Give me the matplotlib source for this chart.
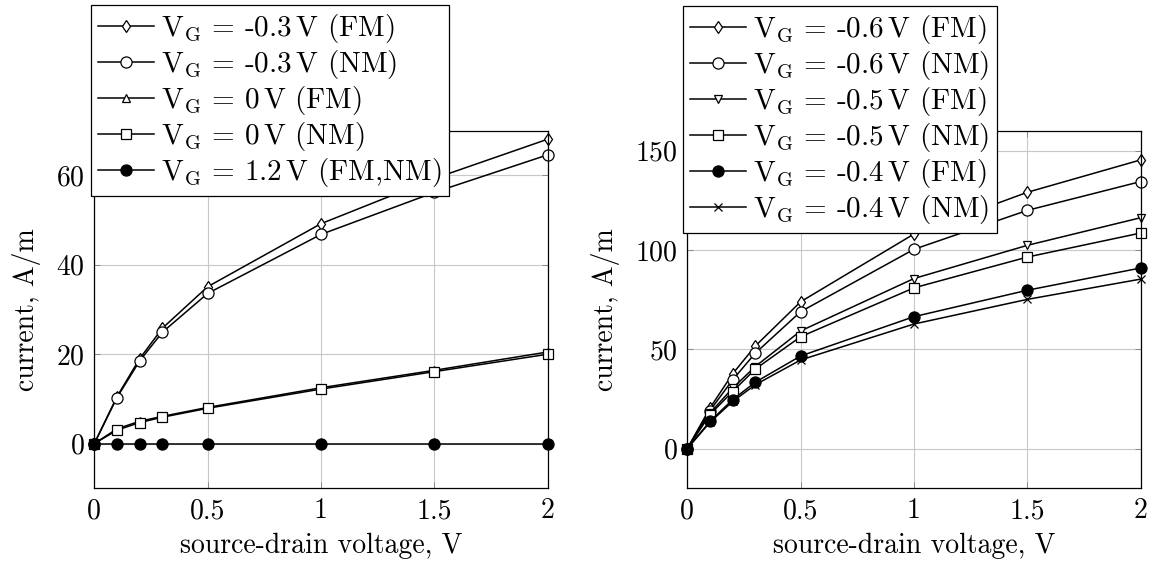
import matplotlib
matplotlib.use('Agg')
import matplotlib.pyplot as plt

plt.rcParams['font.family'] = 'serif'
plt.rcParams['font.serif'] = ['cmr10', 'DejaVu Serif']
plt.rcParams['mathtext.fontset'] = 'cm'
plt.rcParams['axes.unicode_minus'] = False
plt.rcParams['axes.formatter.use_mathtext'] = True
plt.rcParams['font.size'] = 20

# source-drain voltage, V
vsd = [0, 0.1, 0.2, 0.3, 0.5, 1, 1.5, 2]

# left panel, current A/m
left_labels = [r'$\mathrm{V_G}$ = -0.3$\,$V (FM)', r'$\mathrm{V_G}$ = -0.3$\,$V (NM)',
               r'$\mathrm{V_G}$ = 0$\,$V (FM)', r'$\mathrm{V_G}$ = 0$\,$V (NM)',
               r'$\mathrm{V_G}$ = 1.2$\,$V (FM,NM)']
l_m03_fm = [0, 10.5, 19.0, 25.8, 35.1, 49.2, 59.3, 68.1]
l_m03_nm = [0, 10.3, 18.5, 24.9, 33.6, 46.8, 56.2, 64.6]
l_0_fm = [0, 3.3, 5.0, 6.1, 8.1, 12.5, 16.4, 20.5]
l_0_nm = [0, 3.0, 4.7, 5.9, 7.9, 12.2, 16.1, 20.0]
l_12 = [0, 0, 0, 0, 0, 0, 0, 0]

# right panel, current A/m
right_labels = [r'$\mathrm{V_G}$ = -0.6$\,$V (FM)', r'$\mathrm{V_G}$ = -0.6$\,$V (NM)',
                r'$\mathrm{V_G}$ = -0.5$\,$V (FM)', r'$\mathrm{V_G}$ = -0.5$\,$V (NM)',
                r'$\mathrm{V_G}$ = -0.4$\,$V (FM)', r'$\mathrm{V_G}$ = -0.4$\,$V (NM)']
r_m06_fm = [0, 20.4, 37.6, 51.6, 73.9, 108.0, 129.0, 145.3]
r_m06_nm = [0, 19.1, 34.6, 48.0, 68.9, 100.3, 119.9, 134.4]
r_m05_fm = [0, 17.9, 30.4, 41.3, 59.2, 85.6, 102.3, 116.2]
r_m05_nm = [0, 17.1, 28.7, 40.0, 56.3, 80.9, 96.4, 108.5]
r_m04_fm = [0, 13.7, 24.6, 33.4, 46.6, 66.4, 79.7, 90.9]
r_m04_nm = [0, 13.2, 23.7, 32.1, 44.6, 62.7, 75.1, 85.3]

styles = {
    'diamond': dict(marker='d', ms=6, mfc='white'),
    'circle': dict(marker='o', ms=8, mfc='white'),
    'tri_up': dict(marker='^', ms=6, mfc='white'),
    'tri_down': dict(marker='v', ms=6, mfc='white'),
    'square': dict(marker='s', ms=7, mfc='white'),
    'dot': dict(marker='o', ms=8, mfc='black'),
    'cross': dict(marker='x', ms=6),
}

fig = plt.figure(figsize=(11.57, 5.70), dpi=100)
ax1 = fig.add_axes([0.0815, 0.1433, 0.3919, 0.6274])
ax2 = fig.add_axes([0.594, 0.1433, 0.3919, 0.6274])


def draw(ax, series, labels, markers):
    for s, lab, m in zip(series, labels, markers):
        ax.plot(vsd, s, color='black', lw=1.1, mec='black', mew=0.9,
                label=lab, clip_on=False, **styles[m])
    ax.set_xlim(0, 2)
    ax.set_xticks([0, 0.5, 1, 1.5, 2])
    ax.set_xticklabels(['0', '0.5', '1', '1.5', '2'])
    ax.grid(True, color='#c8c8c8', lw=0.8)
    ax.set_axisbelow(True)
    ax.tick_params(direction='in', top=True, right=True, length=4,
                   width=0.6, color='#808080', labelsize=20, pad=7)
    for sp in ax.spines.values():
        sp.set_linewidth(0.9)
    ax.set_xlabel('source-drain voltage, V', fontsize=20, labelpad=6)
    ax.set_ylabel('current, A/m', fontsize=20, labelpad=11)


draw(ax1, [l_m03_fm, l_m03_nm, l_0_fm, l_0_nm, l_12], left_labels,
     ['diamond', 'circle', 'tri_up', 'square', 'dot'])
ax1.set_ylim(-10, 70)
ax1.set_yticks([0, 20, 40, 60])

draw(ax2, [r_m06_fm, r_m06_nm, r_m05_fm, r_m05_nm, r_m04_fm, r_m04_nm], right_labels,
     ['diamond', 'circle', 'tri_down', 'square', 'dot', 'cross'])
ax2.set_ylim(-20, 160)
ax2.set_yticks([0, 50, 100, 150])

for ax, pos in [(ax1, (91 / 1157, 1 - 5 / 570)), (ax2, (683 / 1157, 1 - 6 / 570))]:
    leg = ax.legend(loc='upper left', bbox_to_anchor=pos, bbox_transform=fig.transFigure,
                    borderaxespad=0, fancybox=False, framealpha=1, edgecolor='black',
                    fontsize=21, handlelength=1.9, handletextpad=0.25, labelspacing=0.1,
                    borderpad=0.25)
    leg.get_frame().set_linewidth(0.9)
    leg.set_zorder(10)

fig.savefig('out.png', dpi=100)
